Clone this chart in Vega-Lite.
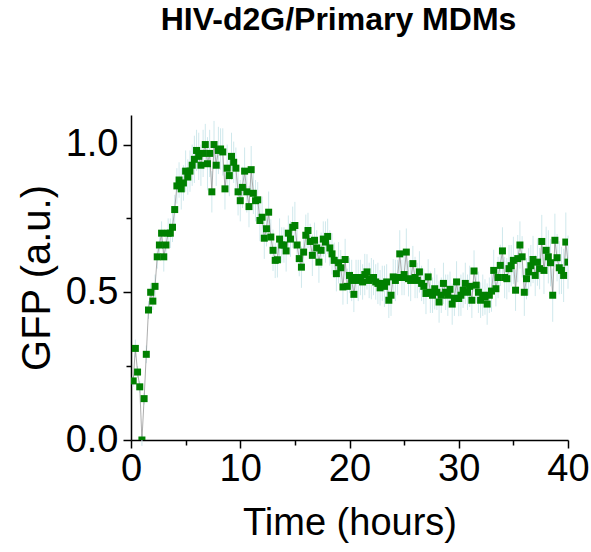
{
  "$schema": "https://vega.github.io/schema/vega-lite/v6.json",
  "autosize": "none",
  "width": 437,
  "height": 325,
  "padding": {"left": 131, "top": 115, "right": 23, "bottom": 112},
  "background": "white",
  "title": {"text": "HIV-d2G/Primary MDMs", "font": "Liberation Sans", "fontSize": 32, "fontWeight": "bold", "color": "black", "anchor": "middle", "frame": "group", "dx": -11, "offset": 78},
  "config": {"view": {"stroke": null}, "font": "Liberation Sans"},
  "data": {"values": [
    {"t":0.2,"v":0.20,"e":0.02},{"t":0.4,"v":0.31,"e":0.03},{"t":0.6,"v":0.23,"e":0.02},{"t":0.8,"v":0.18,"e":0.02},{"t":1.0,"v":0.00,"e":0.02},
    {"t":1.2,"v":0.14,"e":0.02},{"t":1.4,"v":0.29,"e":0.03},{"t":1.6,"v":0.44,"e":0.03},{"t":1.8,"v":0.50,"e":0.03},{"t":2.0,"v":0.47,"e":0.03},
    {"t":2.2,"v":0.52,"e":0.04},{"t":2.4,"v":0.62,"e":0.04},{"t":2.6,"v":0.66,"e":0.05},{"t":2.8,"v":0.70,"e":0.04},{"t":3.0,"v":0.62,"e":0.05},
    {"t":3.2,"v":0.66,"e":0.04},{"t":3.4,"v":0.70,"e":0.05},{"t":3.6,"v":0.70,"e":0.05},{"t":3.8,"v":0.72,"e":0.05},{"t":4.0,"v":0.78,"e":0.05},
    {"t":4.2,"v":0.86,"e":0.06},{"t":4.4,"v":0.88,"e":0.06},{"t":4.6,"v":0.85,"e":0.07},{"t":4.8,"v":0.87,"e":0.06},{"t":5.0,"v":0.91,"e":0.07},
    {"t":5.2,"v":0.89,"e":0.06},{"t":5.4,"v":0.91,"e":0.07},{"t":5.6,"v":0.93,"e":0.07},{"t":5.8,"v":0.95,"e":0.08},{"t":6.0,"v":0.98,"e":0.07},
    {"t":6.2,"v":0.96,"e":0.08},{"t":6.4,"v":0.93,"e":0.07},{"t":6.6,"v":0.97,"e":0.08},{"t":6.8,"v":1.00,"e":0.07},{"t":7.0,"v":0.935,"e":0.09},
    {"t":7.2,"v":0.97,"e":0.08},{"t":7.4,"v":0.84,"e":0.07},{"t":7.6,"v":1.00,"e":0.08},{"t":7.8,"v":0.93,"e":0.07},{"t":8.0,"v":0.98,"e":0.08},
    {"t":8.2,"v":0.985,"e":0.07},{"t":8.4,"v":0.975,"e":0.08},{"t":8.6,"v":0.85,"e":0.07},{"t":8.8,"v":0.92,"e":0.08},{"t":9.0,"v":0.895,"e":0.07},
    {"t":9.2,"v":0.96,"e":0.08},{"t":9.4,"v":0.94,"e":0.07},{"t":9.6,"v":0.92,"e":0.07},{"t":9.8,"v":0.84,"e":0.08},{"t":10.0,"v":0.81,"e":0.07},
    {"t":10.2,"v":0.855,"e":0.07},{"t":10.4,"v":0.91,"e":0.08},{"t":10.6,"v":0.84,"e":0.07},{"t":10.8,"v":0.79,"e":0.07},{"t":11.0,"v":0.915,"e":0.08},
    {"t":11.2,"v":0.835,"e":0.07},{"t":11.4,"v":0.81,"e":0.07},{"t":11.6,"v":0.813,"e":0.06},{"t":11.8,"v":0.743,"e":0.07},{"t":12.0,"v":0.754,"e":0.07},
    {"t":12.2,"v":0.683,"e":0.07},{"t":12.4,"v":0.715,"e":0.06},{"t":12.6,"v":0.771,"e":0.07},{"t":12.8,"v":0.687,"e":0.06},{"t":13.0,"v":0.642,"e":0.07},
    {"t":13.2,"v":0.608,"e":0.06},{"t":13.4,"v":0.61,"e":0.06},{"t":13.6,"v":0.68,"e":0.07},{"t":13.8,"v":0.66,"e":0.06},{"t":14.0,"v":0.66,"e":0.06},
    {"t":14.2,"v":0.64,"e":0.07},{"t":14.4,"v":0.70,"e":0.06},{"t":14.6,"v":0.68,"e":0.06},{"t":14.8,"v":0.72,"e":0.07},{"t":15.0,"v":0.726,"e":0.08},
    {"t":15.2,"v":0.66,"e":0.06},{"t":15.4,"v":0.614,"e":0.06},{"t":15.6,"v":0.585,"e":0.07},{"t":15.8,"v":0.636,"e":0.06},{"t":16.0,"v":0.693,"e":0.07},
    {"t":16.2,"v":0.709,"e":0.06},{"t":16.4,"v":0.672,"e":0.06},{"t":16.6,"v":0.625,"e":0.07},{"t":16.8,"v":0.676,"e":0.06},{"t":17.0,"v":0.65,"e":0.06},
    {"t":17.2,"v":0.602,"e":0.07},{"t":17.4,"v":0.642,"e":0.06},{"t":17.6,"v":0.68,"e":0.06},{"t":17.8,"v":0.67,"e":0.07},{"t":18.0,"v":0.689,"e":0.06},
    {"t":18.2,"v":0.65,"e":0.06},{"t":18.4,"v":0.63,"e":0.07},{"t":18.6,"v":0.608,"e":0.06},{"t":18.8,"v":0.563,"e":0.06},{"t":19.0,"v":0.60,"e":0.07},
    {"t":19.2,"v":0.583,"e":0.06},{"t":19.4,"v":0.518,"e":0.06},{"t":19.6,"v":0.611,"e":0.07},{"t":19.8,"v":0.52,"e":0.06},{"t":20.0,"v":0.557,"e":0.06},
    {"t":20.2,"v":0.54,"e":0.07},{"t":20.4,"v":0.493,"e":0.06},{"t":20.6,"v":0.55,"e":0.06},{"t":20.8,"v":0.54,"e":0.07},{"t":21.0,"v":0.55,"e":0.06},
    {"t":21.2,"v":0.535,"e":0.06},{"t":21.4,"v":0.56,"e":0.07},{"t":21.6,"v":0.569,"e":0.06},{"t":21.8,"v":0.54,"e":0.06},{"t":22.0,"v":0.546,"e":0.07},
    {"t":22.2,"v":0.55,"e":0.06},{"t":22.4,"v":0.535,"e":0.06},{"t":22.6,"v":0.53,"e":0.07},{"t":22.8,"v":0.515,"e":0.06},{"t":23.0,"v":0.53,"e":0.06},
    {"t":23.2,"v":0.52,"e":0.07},{"t":23.4,"v":0.535,"e":0.06},{"t":23.6,"v":0.473,"e":0.06},{"t":23.8,"v":0.49,"e":0.07},{"t":24.0,"v":0.552,"e":0.06},
    {"t":24.2,"v":0.54,"e":0.07},{"t":24.4,"v":0.55,"e":0.06},{"t":24.6,"v":0.63,"e":0.08},{"t":24.8,"v":0.55,"e":0.06},{"t":25.0,"v":0.56,"e":0.07},
    {"t":25.2,"v":0.636,"e":0.08},{"t":25.4,"v":0.546,"e":0.06},{"t":25.6,"v":0.54,"e":0.07},{"t":25.8,"v":0.597,"e":0.06},{"t":26.0,"v":0.55,"e":0.07},
    {"t":26.2,"v":0.54,"e":0.06},{"t":26.4,"v":0.569,"e":0.07},{"t":26.6,"v":0.53,"e":0.06},{"t":26.8,"v":0.52,"e":0.06},{"t":27.0,"v":0.496,"e":0.07},
    {"t":27.2,"v":0.552,"e":0.06},{"t":27.4,"v":0.50,"e":0.07},{"t":27.6,"v":0.49,"e":0.06},{"t":27.8,"v":0.512,"e":0.07},{"t":28.0,"v":0.50,"e":0.06},
    {"t":28.2,"v":0.467,"e":0.07},{"t":28.4,"v":0.49,"e":0.06},{"t":28.6,"v":0.53,"e":0.07},{"t":28.8,"v":0.50,"e":0.06},{"t":29.0,"v":0.49,"e":0.07},
    {"t":29.2,"v":0.51,"e":0.06},{"t":29.4,"v":0.46,"e":0.07},{"t":29.6,"v":0.48,"e":0.06},{"t":29.8,"v":0.535,"e":0.07},{"t":30.0,"v":0.479,"e":0.06},
    {"t":30.2,"v":0.49,"e":0.07},{"t":30.4,"v":0.507,"e":0.06},{"t":30.6,"v":0.53,"e":0.07},{"t":30.8,"v":0.50,"e":0.06},{"t":31.0,"v":0.52,"e":0.07},
    {"t":31.2,"v":0.473,"e":0.06},{"t":31.4,"v":0.572,"e":0.07},{"t":31.6,"v":0.524,"e":0.06},{"t":31.8,"v":0.50,"e":0.07},{"t":32.0,"v":0.473,"e":0.06},
    {"t":32.2,"v":0.49,"e":0.07},{"t":32.4,"v":0.484,"e":0.06},{"t":32.6,"v":0.46,"e":0.07},{"t":32.8,"v":0.49,"e":0.06},{"t":33.0,"v":0.504,"e":0.07},
    {"t":33.2,"v":0.574,"e":0.07},{"t":33.4,"v":0.512,"e":0.06},{"t":33.6,"v":0.55,"e":0.07},{"t":33.8,"v":0.591,"e":0.07},{"t":34.0,"v":0.64,"e":0.08},
    {"t":34.2,"v":0.55,"e":0.07},{"t":34.4,"v":0.546,"e":0.07},{"t":34.6,"v":0.58,"e":0.08},{"t":34.8,"v":0.59,"e":0.07},{"t":35.0,"v":0.608,"e":0.08},
    {"t":35.2,"v":0.507,"e":0.07},{"t":35.4,"v":0.614,"e":0.08},{"t":35.6,"v":0.66,"e":0.08},{"t":35.8,"v":0.62,"e":0.07},{"t":36.0,"v":0.50,"e":0.08},
    {"t":36.2,"v":0.546,"e":0.07},{"t":36.4,"v":0.569,"e":0.08},{"t":36.6,"v":0.59,"e":0.07},{"t":36.8,"v":0.611,"e":0.08},{"t":37.0,"v":0.557,"e":0.07},
    {"t":37.2,"v":0.602,"e":0.08},{"t":37.4,"v":0.58,"e":0.07},{"t":37.6,"v":0.672,"e":0.09},{"t":37.8,"v":0.574,"e":0.08},{"t":38.0,"v":0.642,"e":0.08},
    {"t":38.2,"v":0.62,"e":0.09},{"t":38.4,"v":0.60,"e":0.08},{"t":38.6,"v":0.49,"e":0.09},{"t":38.8,"v":0.676,"e":0.09},{"t":39.0,"v":0.617,"e":0.08},
    {"t":39.2,"v":0.583,"e":0.09},{"t":39.4,"v":0.574,"e":0.08},{"t":39.6,"v":0.557,"e":0.09},{"t":39.8,"v":0.67,"e":0.1},{"t":40.0,"v":0.602,"e":0.09}
  ]},
  "layer": [
    {
      "mark": {"type": "errorbar", "color": "#cfe8ec", "thickness": 1},
      "encoding": {
        "x": {"field": "t", "type": "quantitative", "scale": {"domain": [0, 40], "nice": false, "zero": false}, "axis": null},
        "y": {"field": "v", "type": "quantitative", "scale": {"domain": [0, 1.1], "nice": false}, "axis": null},
        "yError": {"field": "e"}
      }
    },
    {
      "mark": {"type": "line", "color": "#8a8a8a", "strokeWidth": 0.7, "clip": true},
      "encoding": {
        "x": {"field": "t", "type": "quantitative", "scale": {"domain": [0, 40], "nice": false, "zero": false},
          "axis": {"orient": "bottom", "values": [5, 15, 25, 35], "labels": false, "domain": false, "ticks": true, "tickSize": 5, "tickWidth": 1.5, "tickColor": "black", "grid": false, "title": null}},
        "y": {"field": "v", "type": "quantitative", "scale": {"domain": [0, 1.1], "nice": false},
          "axis": {"orient": "left", "values": [0.25, 0.75], "labels": false, "domain": false, "ticks": true, "tickSize": 5, "tickWidth": 1.5, "tickColor": "black", "grid": false, "title": null}}
      }
    },
    {
      "mark": {"type": "point", "shape": "square", "filled": true, "size": 49, "color": "#008000", "opacity": 1, "clip": true},
      "encoding": {
        "x": {"field": "t", "type": "quantitative", "scale": {"domain": [0, 40], "nice": false, "zero": false},
          "axis": {"orient": "bottom", "values": [0, 10, 20, 30, 40], "format": "d", "title": "Time (hours)", "grid": false,
            "domainColor": "black", "domainWidth": 1.5, "tickColor": "black", "tickWidth": 1.5, "tickSize": 8,
            "labelFont": "Liberation Sans", "labelFontSize": 38, "labelColor": "black", "labelPadding": 2, "labelFlush": false, "labelOverlap": false, "labelBound": false,
            "titleFont": "Liberation Sans", "titleFontSize": 38, "titleFontWeight": "normal", "titleColor": "black", "titlePadding": 16}},
        "y": {"field": "v", "type": "quantitative", "scale": {"domain": [0, 1.1], "nice": false},
          "axis": {"orient": "left", "values": [0, 0.5, 1.0], "format": ".1f", "title": "GFP (a.u.)", "grid": false,
            "domainColor": "black", "domainWidth": 1.5, "tickColor": "black", "tickWidth": 1.5, "tickSize": 8,
            "labelFont": "Liberation Sans", "labelFontSize": 38, "labelColor": "black", "labelPadding": 5, "labelOverlap": false, "labelBound": false,
            "titleFont": "Liberation Sans", "titleFontSize": 40, "titleFontWeight": "normal", "titleColor": "black", "titlePadding": 8}}
      }
    }
  ],
  "resolve": {"axis": {"x": "independent", "y": "independent"}}
}
